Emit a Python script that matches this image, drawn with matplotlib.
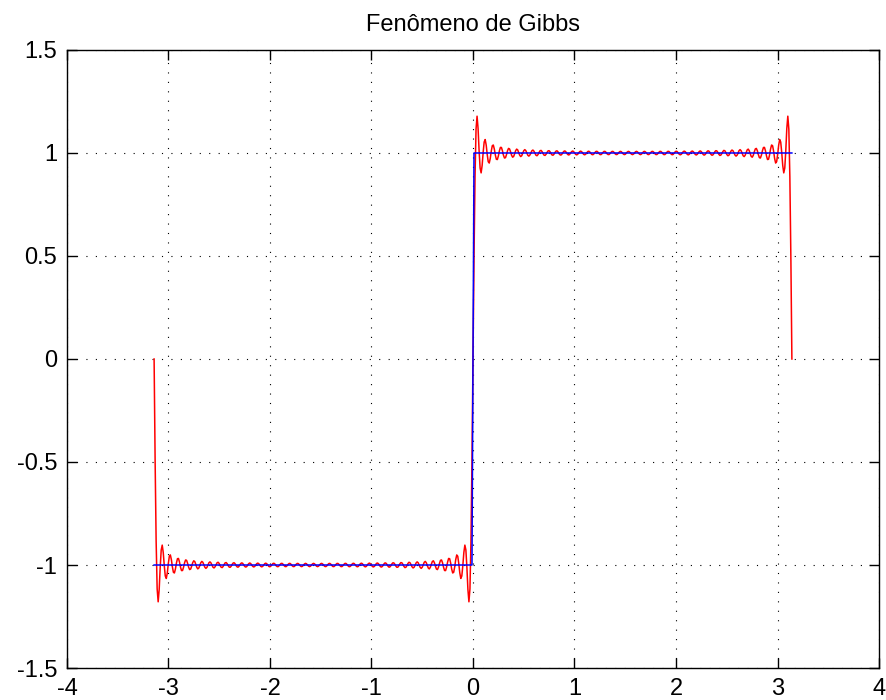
import numpy as np
import matplotlib
matplotlib.use('Agg')
import matplotlib.pyplot as plt

# values
titulo = 'Fenômeno de Gibbs'
x_limites = [-4, 4]
y_limites = [-1.5, 1.5]
x_ticks = [-4, -3, -2, -1, 0, 1, 2, 3, 4]
y_ticks = [-1.5, -1, -0.5, 0, 0.5, 1, 1.5]
n_harmonicas = 40      # odd harmonics in the partial sum (1, 3, ..., 79)
n_amostras = 629       # samples on [-pi, pi], step ~0.01
nivel_onda = [-1, 1]   # square wave levels

x = np.linspace(-np.pi, np.pi, n_amostras)

# partial Fourier sum of the square wave
serie = np.zeros_like(x)
for k in range(1, n_harmonicas + 1):
	n = 2*k - 1
	serie += 4/np.pi * np.sin(n*x)/n

onda = np.where(x < 0, nivel_onda[0], nivel_onda[1])
onda[np.isclose(x, 0)] = 0

plt.rcParams['font.family'] = ['Liberation Sans', 'DejaVu Sans']
plt.rcParams['font.size'] = 17

fig = plt.figure(figsize=(8.87, 7.0), dpi=100)
ax = fig.add_axes([0.0755, 0.0457, 0.9155, 0.8829])

ax.plot(x, serie, color='red', linewidth=1.1)
ax.plot(x, onda, color='blue', linewidth=1.1)

ax.set_xlim(x_limites)
ax.set_ylim(y_limites)
ax.set_xticks(x_ticks)
ax.set_yticks(y_ticks)
ax.set_xticklabels([str(v) for v in x_ticks])
ax.set_yticklabels(['%g' % v for v in y_ticks])
ax.tick_params(direction='in', length=7, width=1, top=True, right=True, pad=7)
ax.grid(True, color='black', linestyle=(0, (1, 7.5)), linewidth=0.8)
for s in ax.spines.values():
	s.set_linewidth(1)
ax.set_title(titulo, fontsize=17, pad=14)

fig.savefig('out.png', dpi=100)
